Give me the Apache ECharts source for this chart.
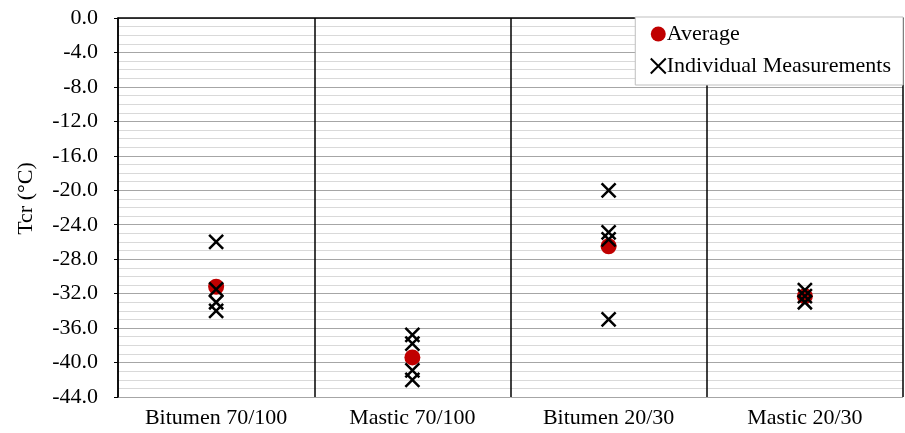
<!DOCTYPE html>
<html>
<head>
<meta charset="utf-8">
<script src="https://cdn.jsdelivr.net/npm/echarts@6/dist/echarts.min.js"></script>
<style>
  html, body { margin: 0; padding: 0; background: #fff; }
  #chart { width: 905px; height: 433px; }
</style>
</head>
<body>
<div id="chart"></div>
<script>
// Binder types tested
const categories = ['Bitumen 70/100', 'Mastic 70/100', 'Bitumen 20/30', 'Mastic 20/30'];

// Critical temperature Tcr (°C): mean per binder
const averageTcr = [-31.2, -39.4, -26.5, -32.3];

// Individual measurements per binder
const bitumen70100 = [-26.0, -31.5, -33.0, -34.0];
const mastic70100 = [-36.8, -37.8, -40.9, -42.0];
const bitumen2030 = [-20.0, -24.9, -25.7, -35.0];
const mastic2030 = [-31.6, -32.3, -33.0];

const individualSets = [bitumen70100, mastic70100, bitumen2030, mastic2030];

const yMin = -44, yMax = 0, yStep = 4;

const crossPath = 'path://M0,0L10,10M10,0L0,10';
const serif = 'Liberation Serif';

const individualPoints = [];
individualSets.forEach((vals, i) => {
  vals.forEach(v => individualPoints.push([categories[i], v]));
});

const chart = echarts.init(document.getElementById('chart'));
chart.setOption({
  animation: false,
  backgroundColor: '#fff',
  grid: { left: 118, right: 2, top: 18, bottom: 36 },
  legend: {
    right: 2,
    top: 17,
    orient: 'vertical',
    backgroundColor: '#fff',
    borderColor: '#bfbfbf',
    borderWidth: 1,
    padding: [6, 12, 8, 13],
    itemGap: 10,
    itemWidth: 15,
    itemHeight: 15,
    textStyle: { fontFamily: serif, fontSize: 22, color: '#000', padding: [0, 0, 0, -4] },
    data: [
      { name: 'Average', icon: 'circle' },
      { name: 'Individual Measurements', icon: crossPath }
    ]
  },
  xAxis: {
    type: 'category',
    data: categories,
    boundaryGap: true,
    axisLine: { lineStyle: { color: '#000', width: 1.5 } },
    axisTick: { show: false },
    axisLabel: { fontFamily: serif, fontSize: 22, color: '#000', margin: 10 },
    splitLine: { show: true, lineStyle: { color: '#000', width: 1.5 } }
  },
  yAxis: {
    type: 'value',
    min: yMin,
    max: yMax,
    interval: yStep,
    name: 'Tcr (°C)',
    nameLocation: 'middle',
    nameGap: 81,
    nameRotate: 90,
    nameTextStyle: { fontFamily: serif, fontSize: 22, color: '#000', padding: [0, 0, 0, 18] },
    axisLine: { show: true, lineStyle: { color: '#000', width: 1.5 } },
    axisTick: { show: true, length: 4, lineStyle: { color: '#000' } },
    axisLabel: {
      fontFamily: serif, fontSize: 22, color: '#000', margin: 20,
      formatter: v => v.toFixed(1)
    },
    splitLine: { show: true, lineStyle: { color: '#a6a6a6', width: 1 } },
    minorTick: { show: false, splitNumber: 4 },
    minorSplitLine: { show: true, lineStyle: { color: '#d9d9d9', width: 1 } }
  },
  series: [
    {
      name: 'Average',
      type: 'scatter',
      symbol: 'circle',
      symbolSize: 16,
      itemStyle: { color: '#c00000', opacity: 1 },
      data: categories.map((c, i) => [c, averageTcr[i]]),
      z: 2
    },
    {
      name: 'Individual Measurements',
      type: 'scatter',
      symbol: crossPath,
      symbolSize: 14,
      itemStyle: { color: 'none', borderColor: '#000', borderWidth: 2.5, opacity: 1 },
      data: individualPoints,
      z: 3
    }
  ]
});
</script>
</body>
</html>
